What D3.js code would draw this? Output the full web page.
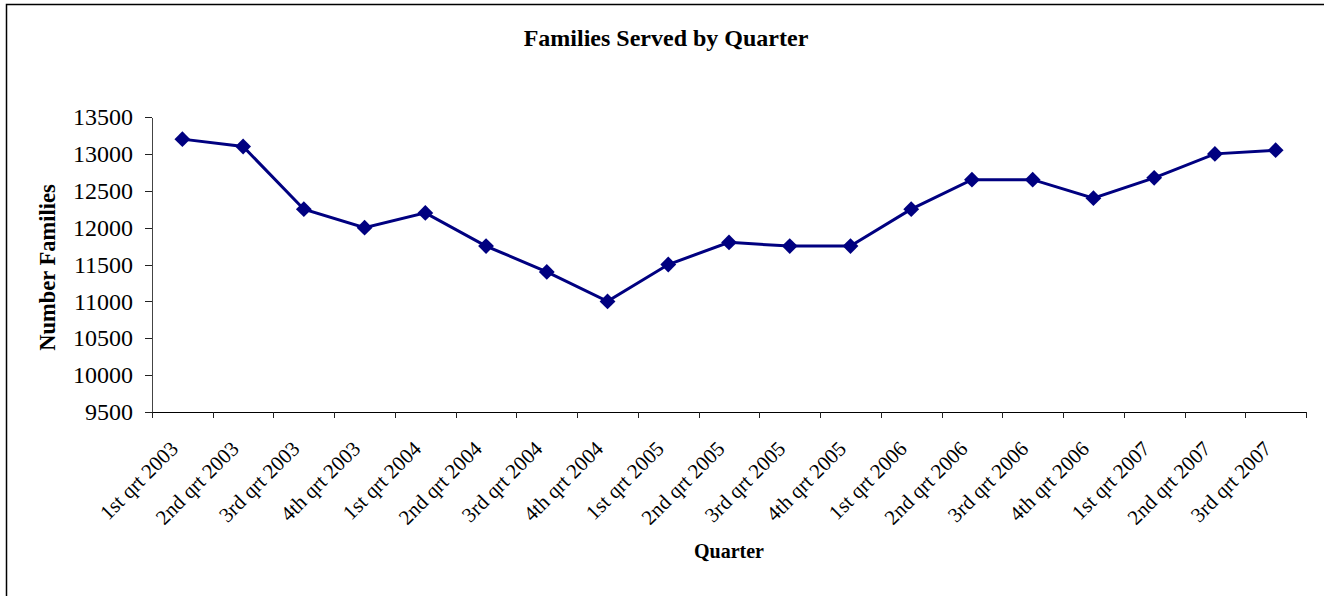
<!DOCTYPE html>
<html>
<head>
<meta charset="utf-8">
<script src="https://cdn.jsdelivr.net/npm/d3@7"></script>
<style>
  body { margin: 0; background: #fff; }
  text { font-family: "Liberation Serif", "DejaVu Serif", serif; fill: #000; }
</style>
</head>
<body>
<div id="svganchor"></div>
<script>
let width = 1324;
let height = 596;
let margin = { top: 117, right: 18, bottom: 184, left: 152 };

// chart values
let quarters = [
  "1st qrt 2003", "2nd qrt 2003", "3rd qrt 2003", "4th qrt 2003",
  "1st qrt 2004", "2nd qrt 2004", "3rd qrt 2004", "4th qrt 2004",
  "1st qrt 2005", "2nd qrt 2005", "3rd qrt 2005", "4th qrt 2005",
  "1st qrt 2006", "2nd qrt 2006", "3rd qrt 2006", "4th qrt 2006",
  "1st qrt 2007", "2nd qrt 2007", "3rd qrt 2007"
];
let families = [
  13200, 13100, 12250, 12000,
  12200, 11750, 11400, 11000,
  11500, 11800, 11750, 11750,
  12250, 12650, 12650, 12400,
  12675, 13000, 13050
];
let yTicks = [9500, 10000, 10500, 11000, 11500, 12000, 12500, 13000, 13500];

let dataSet = quarters.map(function (q, i) {
  return { quarter: q, value: families[i] };
});

let svg = d3.select("#svganchor").append("svg").attr("width", width).attr("height", height);

// chart border
svg.append("rect")
  .attr("x", 6.5).attr("y", 4.5)
  .attr("width", width + 10).attr("height", height + 10)
  .attr("fill", "none").attr("stroke", "#000").attr("stroke-width", 1.5);

let plotRight = width - margin.right;
let plotBottom = height - margin.bottom;

let xScale = d3.scaleBand().domain(quarters).range([margin.left, plotRight]);
let yScale = d3.scaleLinear().domain([9500, 13500]).range([plotBottom, margin.top]);

// title
svg.append("text")
  .attr("x", 666).attr("y", 46)
  .attr("text-anchor", "middle")
  .style("font-size", "24px").style("font-weight", "bold")
  .text("Families Served by Quarter");

// y axis
let yAxis = svg.append("g")
  .attr("transform", "translate(" + margin.left + ",0)")
  .call(d3.axisLeft(yScale).tickValues(yTicks).tickFormat(d3.format("d"))
    .tickSize(7).tickPadding(12).tickSizeOuter(0));
yAxis.select(".domain").attr("stroke", "#444").attr("shape-rendering", "crispEdges");
yAxis.selectAll(".tick line").attr("stroke", "#222").attr("shape-rendering", "crispEdges");
yAxis.selectAll("text").style("font-size", "24px").style("font-family", "Liberation Serif");

// x axis: ticks sit on the category boundaries
let boundaries = d3.scaleLinear().domain([0, quarters.length]).range([margin.left, plotRight]);
let xAxis = svg.append("g")
  .attr("transform", "translate(0," + plotBottom + ")")
  .call(d3.axisBottom(boundaries).tickValues(d3.range(quarters.length + 1)).tickSize(6).tickFormat("").tickSizeOuter(0));
xAxis.select(".domain").attr("stroke", "#000").attr("shape-rendering", "crispEdges");
xAxis.selectAll(".tick line").attr("stroke", "#222").attr("shape-rendering", "crispEdges");

// rotated category labels
svg.append("g").selectAll("text")
  .data(quarters)
  .enter()
  .append("text")
  .attr("text-anchor", "end")
  .attr("transform", function (d) {
    return "translate(" + (xScale(d) + xScale.bandwidth() / 2 - 3) + "," + (plotBottom + 38) + ") rotate(-45)";
  })
  .style("font-size", "21px")
  .text(function (d) { return d; });

// axis titles
svg.append("text")
  .attr("x", (margin.left + plotRight) / 2).attr("y", 558)
  .attr("text-anchor", "middle")
  .style("font-size", "20px").style("font-weight", "bold")
  .text("Quarter");

svg.append("text")
  .attr("transform", "translate(55," + ((margin.top + plotBottom) / 2 + 3) + ") rotate(-90)")
  .attr("text-anchor", "middle")
  .style("font-size", "22.5px").style("font-weight", "bold")
  .text("Number Families");

// line
let line = d3.line()
  .x(function (d) { return xScale(d.quarter) + xScale.bandwidth() / 2; })
  .y(function (d) { return yScale(d.value); });

svg.append("path")
  .datum(dataSet)
  .attr("d", line)
  .attr("fill", "none")
  .attr("stroke", "#000080")
  .attr("stroke-width", 3);

// diamond markers
svg.selectAll(".marker")
  .data(dataSet)
  .enter()
  .append("path")
  .attr("class", "marker")
  .attr("d", d3.symbol(d3.symbolSquare, 125))
  .attr("transform", function (d) {
    return "translate(" + (xScale(d.quarter) + xScale.bandwidth() / 2) + "," + yScale(d.value) + ") rotate(45)";
  })
  .attr("fill", "#000080");
</script>
</body>
</html>
